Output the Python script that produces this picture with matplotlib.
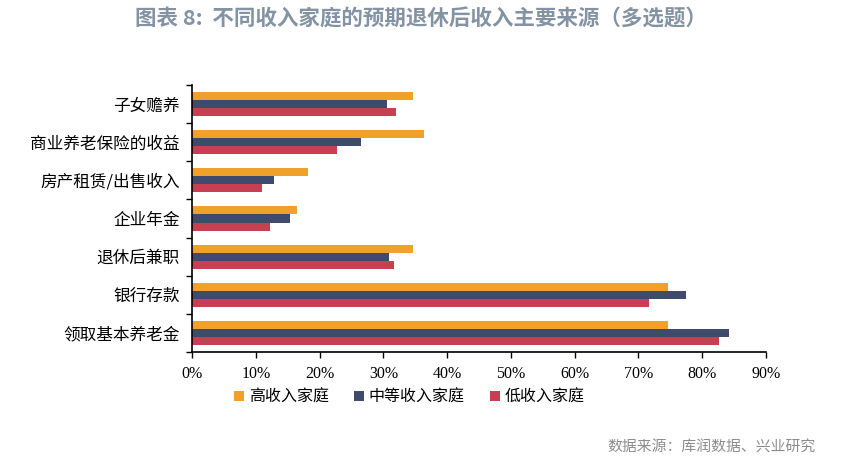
import numpy as np
import matplotlib
matplotlib.use("Agg")
import matplotlib.pyplot as plt
from matplotlib.patches import Patch

plt.rcParams['font.family'] = ['Noto Sans CJK SC', 'DejaVu Sans']

# categories listed top to bottom
categories = ["子女赡养", "商业养老保险的收益", "房产租赁/出售收入", "企业年金",
              "退休后兼职", "银行存款", "领取基本养老金"]
series_names = ["高收入家庭", "中等收入家庭", "低收入家庭"]
high_income = [34.6, 36.4, 18.2, 16.5, 34.6, 74.6, 74.6]
mid_income = [30.6, 26.5, 12.9, 15.4, 30.9, 77.4, 84.2]
low_income = [32.0, 22.7, 11.0, 12.2, 31.7, 71.6, 82.6]
xticks = [0, 10, 20, 30, 40, 50, 60, 70, 80, 90]
colors = ["#F0A12B", "#3F4B6D", "#C73F50"]

fig = plt.figure(figsize=(8.41, 4.66), dpi=100)
ax = fig.add_axes([192 / 841, 1 - 352 / 466, (766 - 192) / 841, (352 - 85) / 466])

n = len(categories)
y = np.arange(n)[::-1].astype(float)
h = 0.21
for vals, off, c in zip([high_income, mid_income, low_income], [h, 0, -h], colors):
    ax.barh(y + off, vals, height=h, color=c, edgecolor="none")

ax.set_xlim(0, 90)
ax.set_ylim(-0.5, n - 0.5)
ax.set_xticks(xticks)
ax.set_xticklabels([f"{t}%" for t in xticks], family="Liberation Serif", fontsize=11.5)
ax.set_yticks(y)
ax.set_yticklabels(categories, fontsize=12)
ax.set_yticks(np.arange(n + 1) - 0.5, minor=True)
ax.tick_params(axis="y", which="major", length=0, pad=9)
ax.tick_params(axis="y", which="minor", length=4, direction="out", width=1)
ax.tick_params(axis="x", length=4, direction="out", width=1, pad=6)
for s in ["top", "right"]:
    ax.spines[s].set_visible(False)
for s in ["left", "bottom"]:
    ax.spines[s].set_linewidth(1.2)

handles = [Patch(facecolor=c, edgecolor="none") for c in colors]
fig.legend(handles, series_names, loc="center left", bbox_to_anchor=(220 / 841, 1 - 397 / 466),
           ncol=3, frameon=False, fontsize=11.5, handlelength=0.6, handleheight=0.6,
           handletextpad=0.3, columnspacing=1.6)

fig.text(0.5, 1 - 19 / 466, "图表 8:  不同收入家庭的预期退休后收入主要来源（多选题）",
         ha="center", va="center", fontsize=15.5, fontweight="bold", color="#8493A3")
fig.text(816 / 841, 1 - 448 / 466, "数据来源：库润数据、兴业研究",
         ha="right", va="center", fontsize=10.7, color="#8C8C8C")

fig.savefig("out.png", dpi=100)
